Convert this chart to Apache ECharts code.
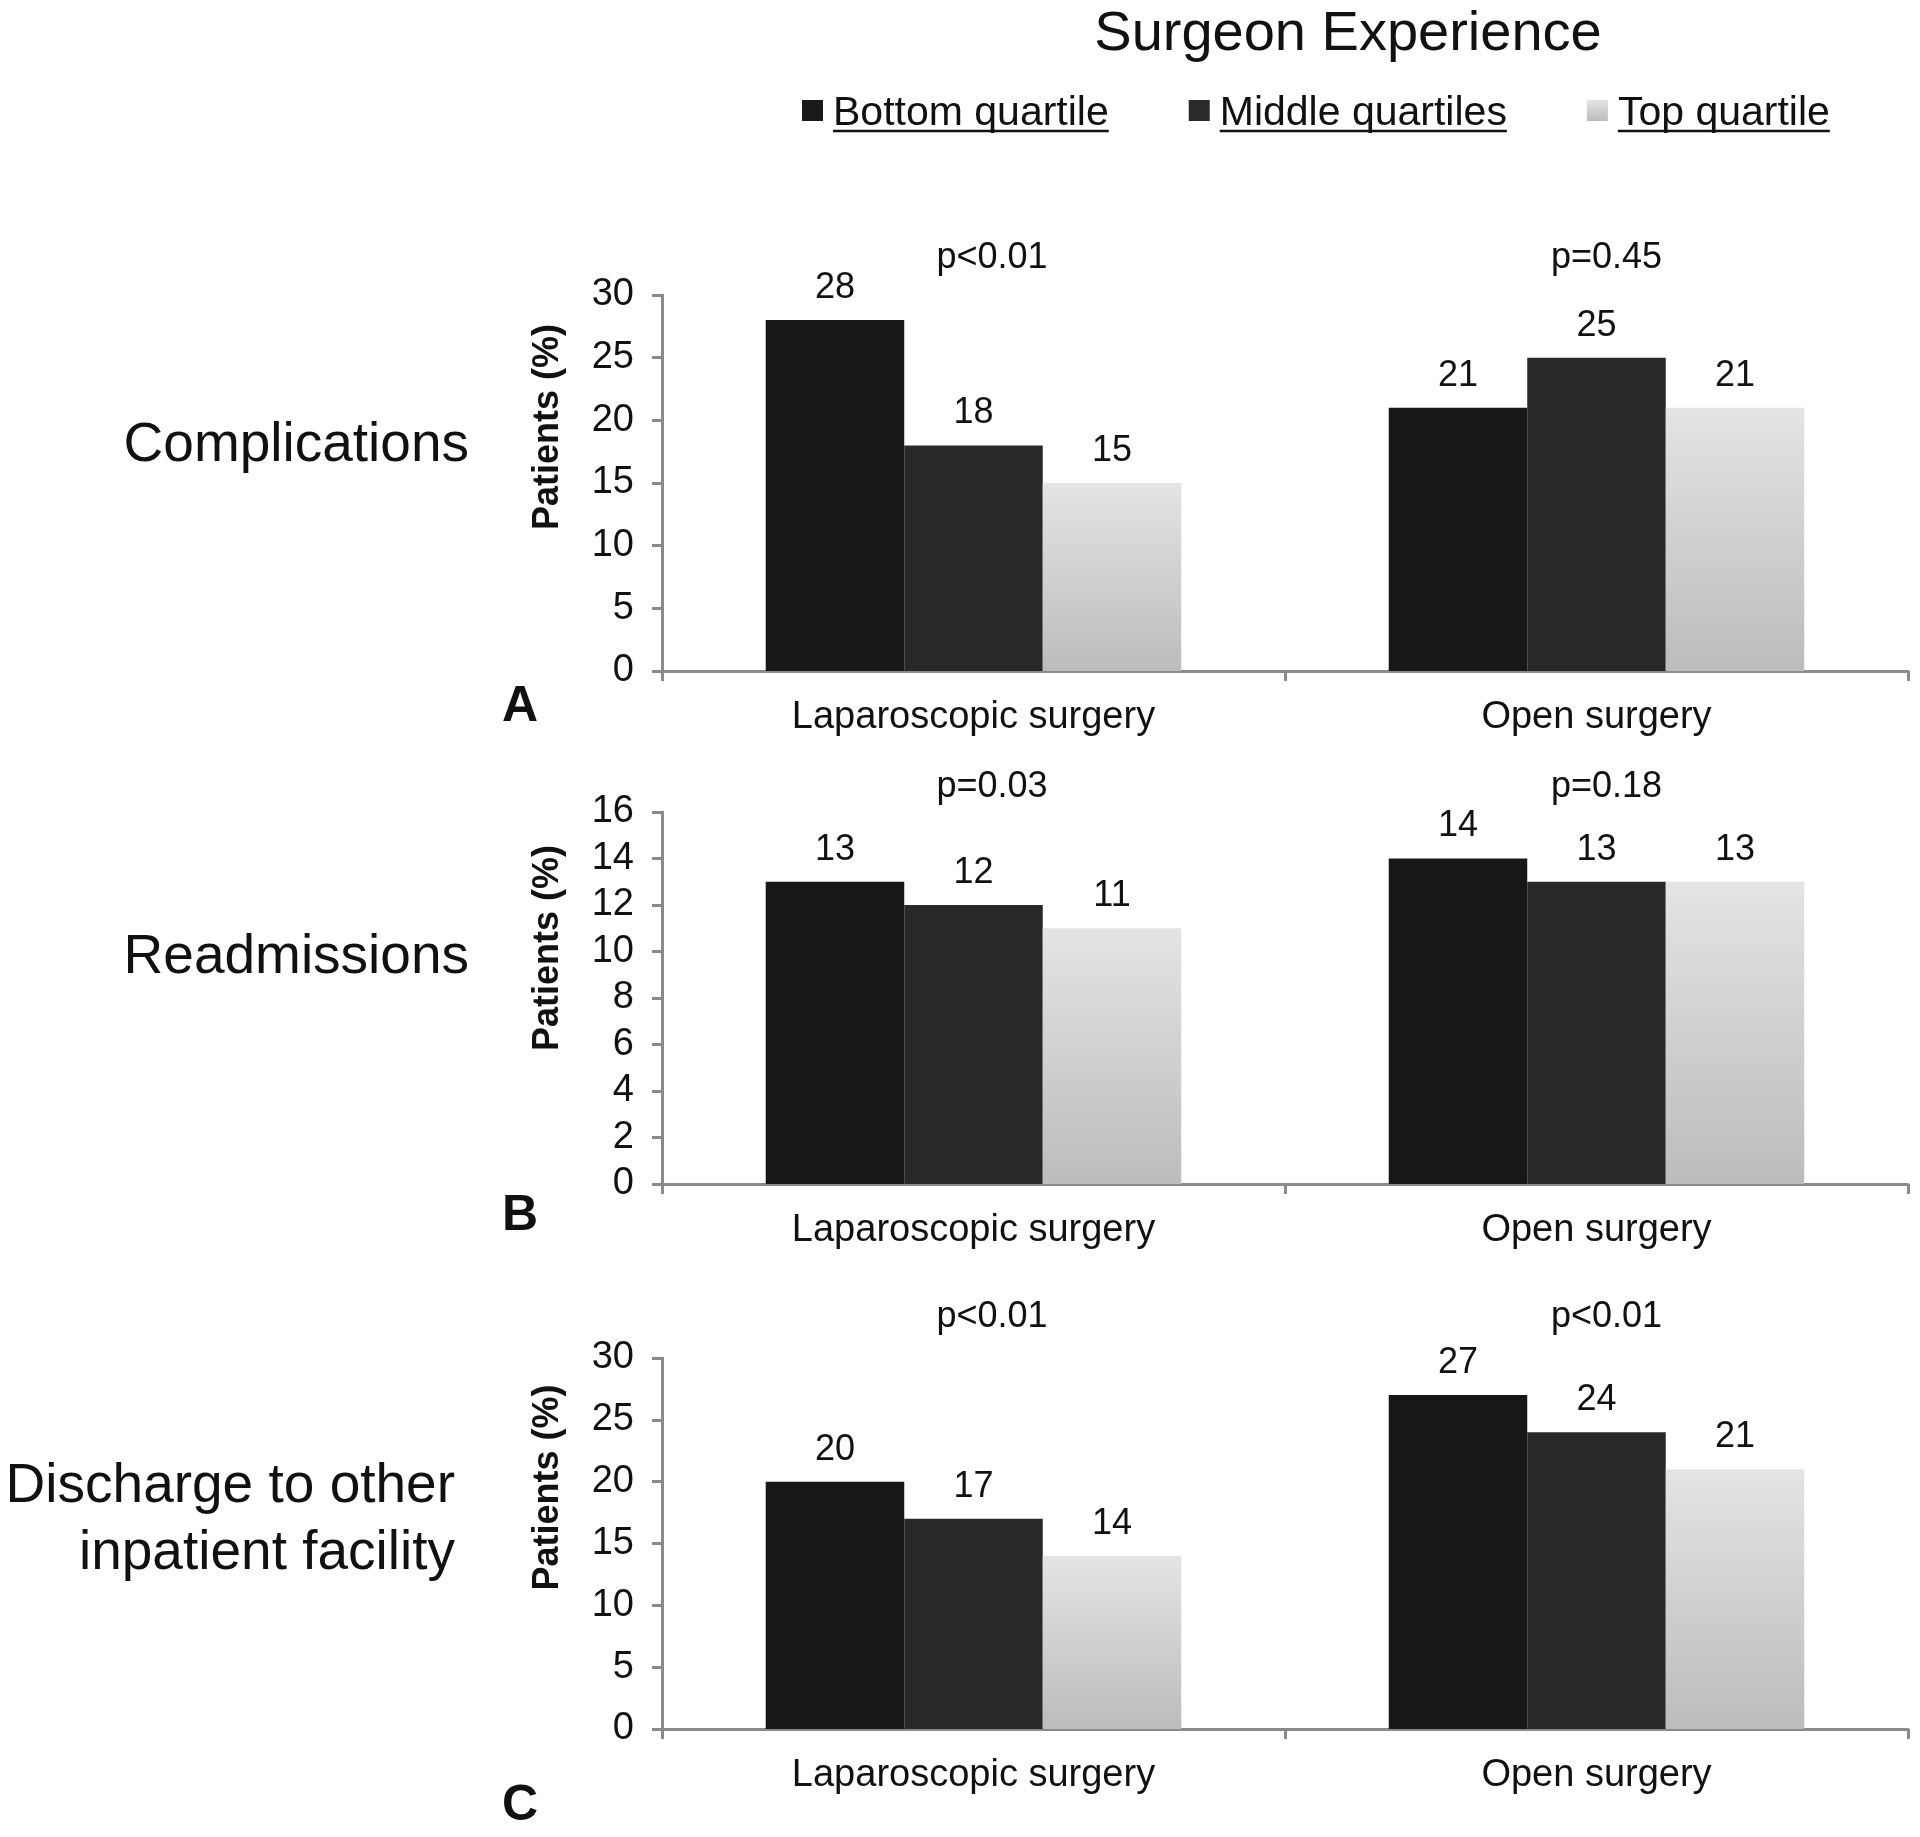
<!DOCTYPE html>
<html><head><meta charset="utf-8">
<script src="https://cdn.jsdelivr.net/npm/echarts@6/dist/echarts.min.js"></script>
<style>html,body{margin:0;padding:0;background:#fff}#chart{width:1920px;height:1837px}</style>
</head><body><div id="chart"></div>
<script>
// ---- data ----
const categories = ['Laparoscopic surgery', 'Open surgery'];
const seriesNames = ['Bottom quartile', 'Middle quartiles', 'Top quartile'];

const complicationsBottom = [28, 21];
const complicationsMiddle = [18, 25];
const complicationsTop = [15, 21];
const complicationsP = ['p<0.01', 'p=0.45'];

const readmissionsBottom = [13, 14];
const readmissionsMiddle = [12, 13];
const readmissionsTop = [11, 13];
const readmissionsP = ['p=0.03', 'p=0.18'];

const dischargeBottom = [20, 27];
const dischargeMiddle = [17, 24];
const dischargeTop = [14, 21];
const dischargeP = ['p<0.01', 'p<0.01'];

const rowTitles = ['Complications', 'Readmissions', 'Discharge to other\ninpatient facility'];
const panelLetters = ['A', 'B', 'C'];
const yAxisName = 'Patients (%)';
const chartTitle = 'Surgeon Experience';

// ---- styles / layout ----
const FONT = '"Liberation Sans", Arial, Helvetica, sans-serif';
const TEXT = '#111111';
const AXIS = '#8a8a8a';
const topGradient = () => new echarts.graphic.LinearGradient(0, 0, 0, 1, [
  {offset: 0, color: '#e4e4e4'}, {offset: 1, color: '#bcbcbc'}]);
const barColors = ['#171717', '#282828', topGradient()];

const panels = [
  {values: [complicationsBottom, complicationsMiddle, complicationsTop], p: complicationsP,
   max: 30, interval: 5, top: 295, height: 376, pMargin: 19, nameShift: 112,
   letterY: 707, titleY: 446, titleRight: 469},
  {values: [readmissionsBottom, readmissionsMiddle, readmissionsTop], p: readmissionsP,
   max: 16, interval: 2, top: 812, height: 372, pMargin: 7, nameShift: 100,
   letterY: 1216, titleY: 958, titleRight: 469},
  {values: [dischargeBottom, dischargeMiddle, dischargeTop], p: dischargeP,
   max: 30, interval: 5, top: 1358, height: 371, pMargin: 23, nameShift: 112,
   letterY: 1806, titleY: 1520, titleRight: 455}
];
const pShift = [37, 20];

const grid = [], xAxis = [], yAxis = [], series = [], graphic = [];

panels.forEach((pn, i) => {
  grid.push({left: 662, right: 12, top: pn.top, height: pn.height, outerBoundsMode: 'none', containLabel: false});
  xAxis.push({
    type: 'category', gridIndex: i, data: categories, position: 'bottom',
    axisLine: {show: true, lineStyle: {color: AXIS, width: 3}},
    axisTick: {show: true, length: 10, lineStyle: {color: AXIS, width: 3}},
    axisLabel: {fontSize: 38, color: TEXT, fontFamily: FONT, margin: 28},
    splitLine: {show: false}
  });
  yAxis.push({
    type: 'value', gridIndex: i, min: 0, max: pn.max, interval: pn.interval,
    name: yAxisName, nameLocation: 'middle', nameGap: 96, nameMoveOverlap: false,
    nameTextStyle: {fontSize: 36, fontWeight: 'bold', color: TEXT, fontFamily: FONT, padding: [0, 0, 0, pn.nameShift]},
    axisLine: {show: true, lineStyle: {color: AXIS, width: 3}},
    axisTick: {show: true, length: 10, lineStyle: {color: AXIS, width: 3}},
    axisLabel: {fontSize: 38, color: TEXT, fontFamily: FONT, margin: 28},
    splitLine: {show: false}
  });
  pn.values.forEach((vals, j) => {
    series.push({
      type: 'bar', name: seriesNames[j], xAxisIndex: i, yAxisIndex: i, data: vals,
      barGap: '0%', barCategoryGap: '33.3%',
      itemStyle: {color: j === 2 ? topGradient() : barColors[j]},
      label: {show: true, position: 'top', distance: 14, fontSize: 36, color: TEXT, fontFamily: FONT},
      emphasis: {disabled: true}
    });
  });
  graphic.push({type: 'text', x: pn.titleRight, y: pn.titleY,
    style: {text: rowTitles[i], fontSize: 55, fontFamily: FONT, fill: TEXT, align: 'right', verticalAlign: 'middle', lineHeight: 67}});
  graphic.push({type: 'text', x: 520, y: pn.letterY,
    style: {text: panelLetters[i], fontSize: 50, fontWeight: 'bold', fontFamily: FONT, fill: TEXT, align: 'center', verticalAlign: 'middle'}});
});
// top p-value axes
panels.forEach((pn, i) => {
  xAxis.push({
    type: 'category', gridIndex: i, position: 'top',
    data: pn.p.map((t, k) => ({value: t, textStyle: {padding: [0, 0, 0, pShift[k]]}})),
    axisLine: {show: false}, axisTick: {show: false}, splitLine: {show: false},
    axisLabel: {fontSize: 36, color: TEXT, fontFamily: FONT, margin: pn.pMargin}
  });
});

// title
graphic.push({type: 'text', x: 1348, y: 35,
  style: {text: chartTitle, fontSize: 56, fontFamily: FONT, fill: TEXT, align: 'center', verticalAlign: 'middle'}});

// legend (underlined)
const ctx = document.createElement('canvas').getContext('2d');
ctx.font = '41px ' + FONT;
let lx = 802;
const legendColors = ['#1a1a1a', '#2a2a2a', topGradient()];
seriesNames.forEach((n, j) => {
  const w = ctx.measureText(n).width;
  graphic.push({type: 'rect', shape: {x: lx, y: 100, width: 21, height: 21}, style: {fill: legendColors[j]}});
  graphic.push({type: 'text', x: lx + 31, y: 114,
    style: {text: n, fontSize: 41, fontFamily: FONT, fill: TEXT, align: 'left', verticalAlign: 'middle'}});
  graphic.push({type: 'line', shape: {x1: lx + 31, y1: 131, x2: lx + 31 + w, y2: 131}, style: {stroke: TEXT, lineWidth: 2.5}});
  lx += 31 + w + 80;
});

const chart = echarts.init(document.getElementById('chart'), null, {renderer: 'canvas'});
chart.setOption({
  animation: false,
  backgroundColor: '#ffffff',
  textStyle: {fontFamily: FONT},
  grid, xAxis, yAxis, series, graphic
});
</script></body></html>
